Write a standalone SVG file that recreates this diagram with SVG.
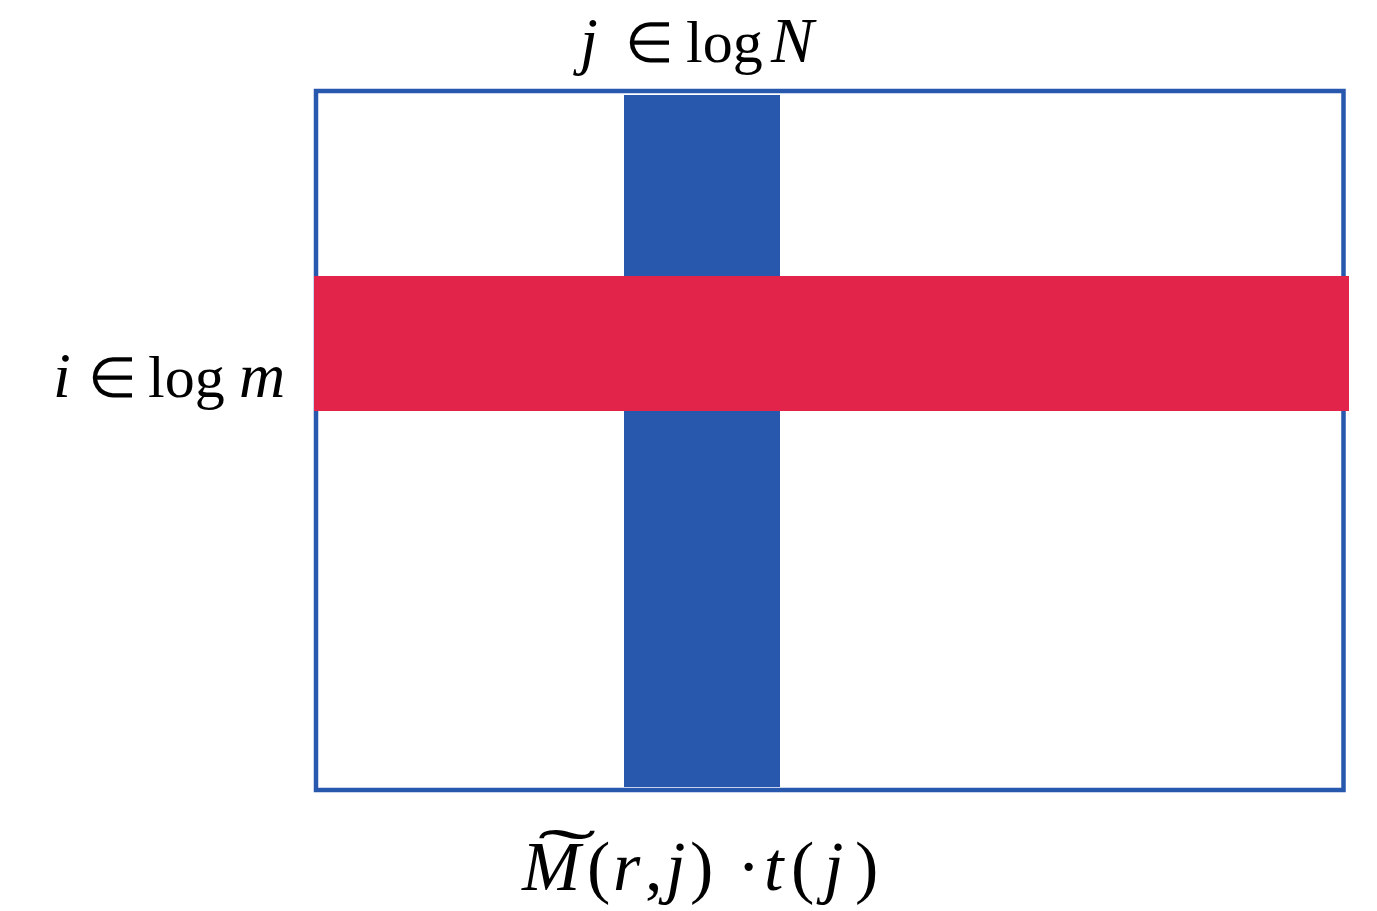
<svg xmlns="http://www.w3.org/2000/svg" width="1377" height="911" viewBox="0 0 1377 911">
<style>
.t{font-family:"Liberation Serif","Times New Roman",serif;font-size:64px;fill:#000}
.b{font-size:70px}
.i{font-style:italic}
.e{font-size:56px}
.l{font-size:60px}
</style>
<rect width="1377" height="911" fill="#fff"/>
<g id="matrix">
<rect x="316" y="91" width="1027.5" height="699" fill="#fff" stroke="#2857ae" stroke-width="4.5"/>
</g>
<g id="column">
<rect x="624" y="95" width="156" height="692" fill="#2857ae"/>
</g>
<g id="row">
<rect x="314" y="276" width="1035" height="135" fill="#e2234a"/>
</g>
<g id="connectors"></g>
<g id="label-top">
<text class="t" y="62"><tspan class="i" x="580">j</tspan><tspan class="e" x="625">∈</tspan><tspan class="l" x="686">log</tspan><tspan class="i" x="771">N</tspan></text>
</g>
<g id="label-left">
<text class="t" y="397"><tspan class="i" x="53">i</tspan><tspan class="e" x="88">∈</tspan><tspan class="l" x="148">log</tspan><tspan class="i" x="239">m</tspan></text>
</g>
<g id="label-bottom">
<text class="t b" y="890"><tspan class="i" x="522">M</tspan><tspan x="587">(</tspan><tspan class="i" x="613">r</tspan><tspan x="645">,</tspan><tspan class="i" x="666">j</tspan><tspan x="690">)</tspan><tspan x="737">·</tspan><tspan class="i" x="764">t</tspan><tspan x="791">(</tspan><tspan class="i" x="824">j</tspan><tspan x="855">)</tspan></text>
<text class="t b" transform="translate(567,877) scale(2.5,1)" text-anchor="middle">˜</text>
</g>
</svg>
